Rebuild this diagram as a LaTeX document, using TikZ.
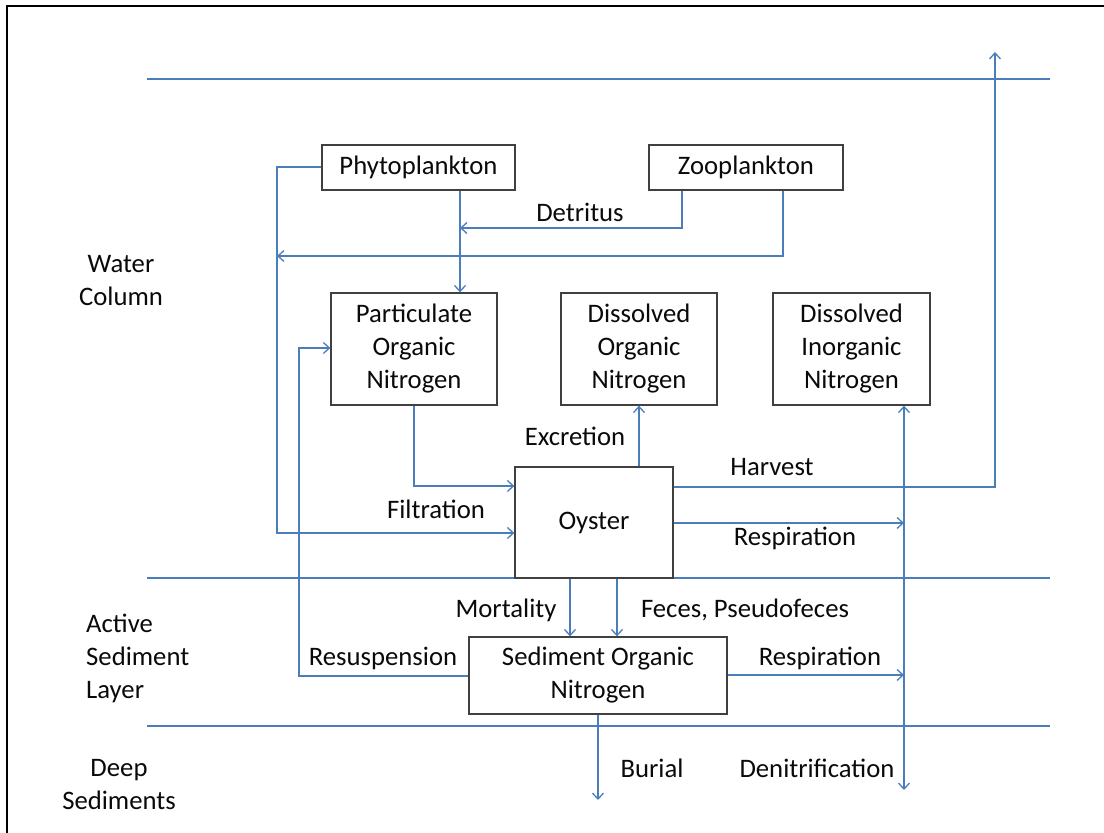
\documentclass[tikz,border=0pt]{standalone}
\usepackage{fontspec}
\setmainfont{Carlito}
\usetikzlibrary{arrows.meta,calc}
\definecolor{lineblue}{RGB}{74,126,187}
\definecolor{boxgray}{RGB}{64,64,64}
\definecolor{txt}{RGB}{10,10,10}
\tikzset{
  every node/.style={font=\fontsize{26.7}{33}\selectfont, text=txt},
  box/.style={draw=boxgray, line width=1.3pt, fill=white, inner sep=0pt, align=center},
  conn/.style={draw=lineblue, line width=1.3pt},
  arr/.style={conn, -{Straight Barb[length=6pt,width=11pt,line width=1.3pt]}},
  darr/.style={conn, {Straight Barb[length=6pt,width=11pt,line width=1.3pt]}-{Straight Barb[length=6pt,width=11pt,line width=1.3pt]}},
  sep/.style={draw=lineblue, line width=1.5pt},
  lbl/.style={inner sep=0pt, align=center}
}
\begin{document}
\begin{tikzpicture}[x=1pt,y=-1pt]
\useasboundingbox (0,0) rectangle (1104,833);
% outer frame
\draw[black, line width=1.6pt] (7,833) -- (7,6) -- (1104,6);
% layer separators
\coordinate (s1a) at (147,79);  \coordinate (s1b) at (1050,79);
\coordinate (s2a) at (147,578); \coordinate (s2b) at (1050,578);
\coordinate (s3a) at (147,726); \coordinate (s3b) at (1050,726);
\draw[sep] (s1a) -- (s1b);
\draw[sep] (s2a) -- (s2b);
\draw[sep] (s3a) -- (s3b);
% helper coordinates
\coordinate (fP) at (277,167);
\coordinate (fA) at (277,533);
\coordinate (xA) at (460,0);
\coordinate (xD) at (682,228);
\coordinate (xE) at (783,256);
\coordinate (fB) at (414,486);
\coordinate (hv) at (995,487);
\coordinate (htip) at (995,52);
\coordinate (dx) at (904,523);
\coordinate (dn) at (904,790);
\coordinate (mx) at (570,0);
\coordinate (fx) at (617,0);
\coordinate (rsA) at (299,676);
\coordinate (rsB) at (299,348);
\coordinate (sr) at (904,675);
\coordinate (bu) at (598,800);
% boxes
\node[box, minimum width=193pt, minimum height=45pt] (phyto) at (418.5,167.5) {Phytoplankton};
\node[box, minimum width=194pt, minimum height=45pt] (zoo) at (746,167.5) {Zooplankton};
\node[box, minimum width=166pt, minimum height=112pt] (pon) at (414,349) {Particulate\\Organic\\Nitrogen};
\node[box, minimum width=156pt, minimum height=112pt] (don) at (639,349) {Dissolved\\Organic\\Nitrogen};
\node[box, minimum width=157pt, minimum height=112pt] (din) at (851.5,349) {Dissolved\\Inorganic\\Nitrogen};
\node[box, minimum width=158pt, minimum height=111pt] (oyster) at (594,522.5) {Oyster};
\node[box, minimum width=258pt, minimum height=77pt] (son) at (598,675.5) {Sediment Organic\\Nitrogen};
% connectors
\draw[arr] (phyto.west |- fP) -- (fP) -- (fA) -- (oyster.west |- fA);
\draw[arr] (phyto.south -| xA) -- (pon.north -| xA);
\draw[arr] (zoo.south -| xD) |- (xA |- xD);
\draw[arr] (zoo.south -| xE) |- (fA |- xE);
\draw[arr] (pon.south) |- (oyster.west |- fB);
\draw[arr] (don.south |- oyster.north) -- (don.south);
\draw[arr] (oyster.east |- hv) -- (hv) -- (htip);
\draw[arr] (oyster.east |- dx) -- (dx);
\draw[darr] (din.south -| dn) -- (dn);
\draw[arr] (oyster.south -| mx) -- (son.north -| mx);
\draw[arr] (oyster.south -| fx) -- (son.north -| fx);
\draw[arr] (son.west |- rsA) -- (rsA) -- (rsB) -- (pon.west |- rsB);
\draw[arr] (son.east |- sr) -- (sr);
\draw[arr] (son.south -| bu) -- (bu);
% layer labels
\node[lbl] (lwater) at (121,281) {Water\\Column};
\node[lbl, align=left, anchor=west] (lactive) at (86,658) {Active\\Sediment\\Layer};
\node[lbl] (ldeep) at (119,785) {Deep\\Sediments};
% connector labels
\node[lbl] (tdet) at (580,212) {Detritus};
\node[lbl] (texc) at (575,436) {Excretion};
\node[lbl] (thar) at (772,467) {Harvest};
\node[lbl] (tfil) at (436,509) {Filtration};
\node[lbl] (tres1) at (795,538) {Respiration};
\node[lbl] (tmor) at (506,610) {Mortality};
\node[lbl] (tfec) at (745,610) {Feces, Pseudofeces};
\node[lbl] (tsus) at (383,658) {Resuspension};
\node[lbl] (tres2) at (820,658) {Respiration};
\node[lbl] (tbur) at (652,768) {Burial};
\node[lbl] (tden) at (817,768) {Denitrification};
\end{tikzpicture}
\end{document}
